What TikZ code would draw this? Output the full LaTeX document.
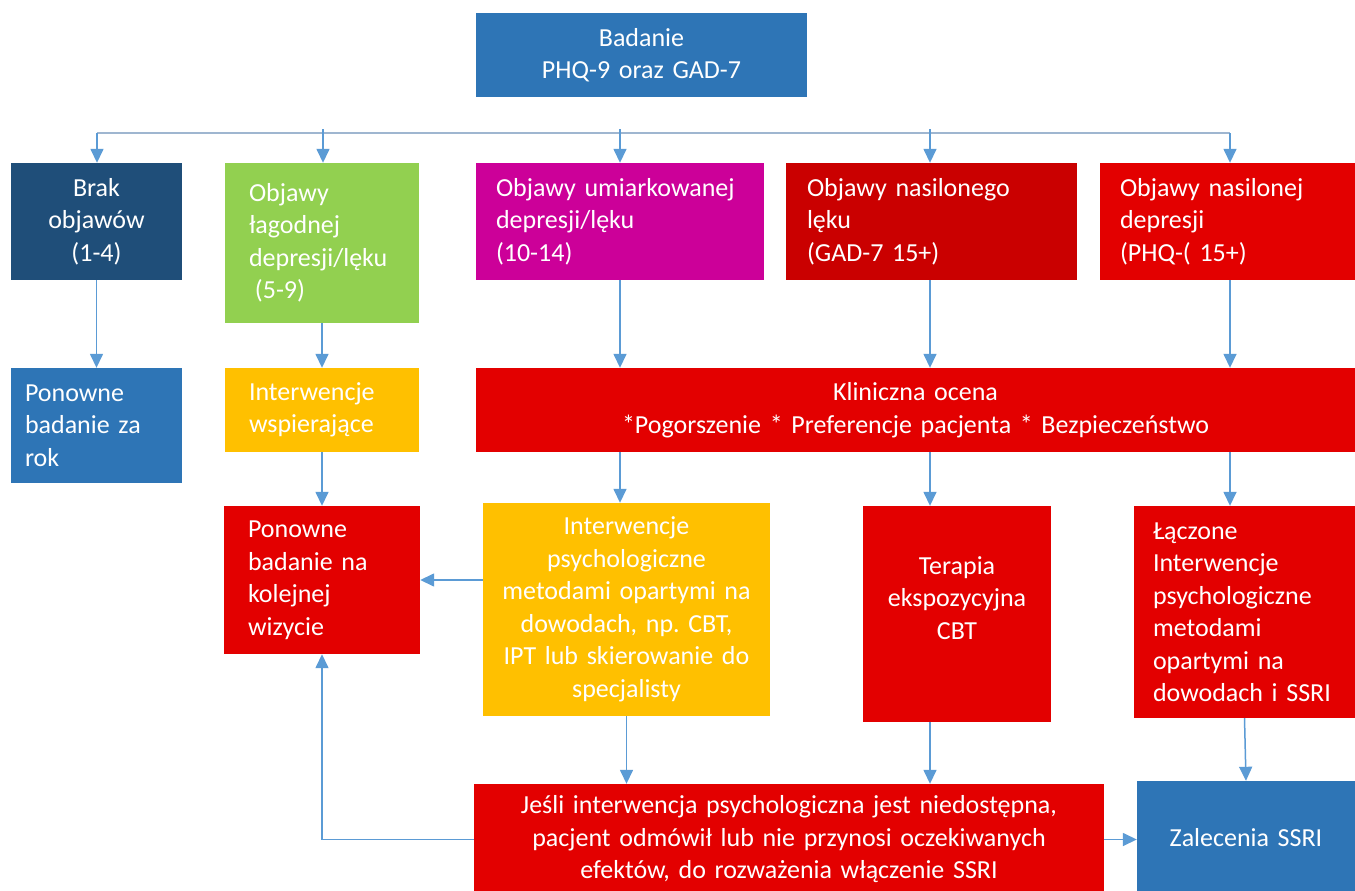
\documentclass[tikz,border=0pt]{standalone}
\usepackage{fontspec}
\setmainfont{Carlito}
\usetikzlibrary{arrows.meta}
\definecolor{cblue}{HTML}{2E75B6}
\definecolor{cnavy}{HTML}{1F4E79}
\definecolor{cgreen}{HTML}{92D050}
\definecolor{cyellow}{HTML}{FFC000}
\definecolor{cmagenta}{HTML}{CC0099}
\definecolor{cdred}{HTML}{CA0000}
\definecolor{cred}{HTML}{E30000}
\definecolor{carrow}{HTML}{5B9BD5}
\definecolor{cbus}{HTML}{9FB6D0}
\frenchspacing
\begin{document}
\begin{tikzpicture}[x=1pt,y=-1pt,
  box/.style={draw=none, text=white, inner ysep=0pt, inner xsep=10pt,
    font=\fontsize{26}{32.5}\selectfont},
  conn/.style={draw=carrow, line width=1.5pt, -{Triangle[length=14pt,width=13pt]}},
  busline/.style={draw=cbus, line width=1.5pt}]
\useasboundingbox (0,0) rectangle (1355,891);
\fill[white] (0,0) rectangle (1355,891);

% row 0
\node[box, fill=cblue, minimum width=331pt, minimum height=84pt, text width=311pt, align=center] (badanie) at (641.5,55) {Badanie\\PHQ-9 oraz GAD-7};

% row 1
\node[box, fill=cnavy, minimum width=171pt, minimum height=117pt, text width=151pt, align=center] (brak) at (96.5,221.5) {Brak\\objawów\\(1-4)};
\node[box, fill=cgreen, inner xsep=24pt, minimum width=194pt, minimum height=160pt, text width=146pt, align=left] (lag) at (322,243) {Objawy\\łagodnej\\depresji/lęku\\\hspace*{0.23em}(5-9)};
\node[box, fill=cmagenta, inner xsep=20pt, minimum width=288pt, minimum height=117pt, text width=248pt, align=left] (umiar) at (620,221.5) {Objawy umiarkowanej\\depresji/lęku\\(10-14)};
\node[box, fill=cdred, inner xsep=21pt, minimum width=291pt, minimum height=117pt, text width=249pt, align=left] (nasil) at (931.5,221.5) {Objawy nasilonego\\lęku\\(GAD-7 15+)};
\node[box, fill=cred, inner xsep=20pt, minimum width=255pt, minimum height=117pt, text width=215pt, align=left] (nasdep) at (1227.5,221.5) {Objawy nasilonej\\depresji\\(PHQ-( 15+)};

% row 2
\node[box, fill=cblue, inner xsep=14pt, minimum width=171pt, minimum height=115pt, text width=143pt, align=left] (ponrok) at (96.5,425.5) {Ponowne\\badanie za\\rok};
\node[box, fill=cyellow, inner xsep=24pt, minimum width=194pt, minimum height=84pt, text width=146pt, align=left] (wsp) at (322,410) {Interwencje\\wspierające};
\node[box, fill=cred, minimum width=879pt, minimum height=84pt, text width=859pt, align=center] (klin) at (915.5,410) {Kliniczna ocena\\{*}Pogorszenie {*} Preferencje pacjenta {*} Bezpieczeństwo};

% row 3
\node[box, fill=cred, inner xsep=24pt, minimum width=196pt, minimum height=148pt, text width=148pt, align=left] (ponkol) at (322,580) {Ponowne\\badanie na\\kolejnej\\wizycie};
\node[box, fill=cyellow, inner xsep=5pt, minimum width=287pt, minimum height=213pt, text width=277pt, align=center] (psych) at (626.5,609.5) {Interwencje\\psychologiczne\\metodami opartymi na\\dowodach, np. CBT,\\IPT lub skierowanie do\\specjalisty};
\node[box, fill=cred, inner xsep=4pt, minimum width=188pt, minimum height=216pt, text width=180pt, align=center] (terapia) at (957,614) {Terapia\\ekspozycyjna\\CBT\\\mbox{}};
\node[box, fill=cred, inner xsep=19pt, minimum width=221pt, minimum height=212pt, text width=183pt, align=left] (lacz) at (1244.5,612) {Łączone\\Interwencje\\psychologiczne\\metodami\\opartymi na\\dowodach i SSRI};

% row 4
\node[box, fill=cred, minimum width=630pt, minimum height=111pt, text width=610pt, align=center] (jesli) at (789,839.5) {Jeśli interwencja psychologiczna jest niedostępna,\\pacjent odmówił lub nie przynosi oczekiwanych\\efektów, do rozważenia włączenie SSRI};
\node[box, fill=cblue, minimum width=218pt, minimum height=114pt, text width=198pt, align=center] (zal) at (1246,838) {Zalecenia SSRI};

% bus
\coordinate (bL) at (97,133);
\coordinate (bR) at (1230,133);
\coordinate (t2) at (323,129);
\coordinate (t3) at (620,129);
\coordinate (t4) at (930,129);
\draw[busline] (bL) -- (bR);
\draw[conn] (bL) -- (bL |- brak.north);
\draw[conn] (t2) -- (t2 |- lag.north);
\draw[conn] (t3) -- (t3 |- umiar.north);
\draw[conn] (t4) -- (t4 |- nasil.north);
\draw[conn] (bR) -- (bR |- nasdep.north);

% row1 -> row2
\draw[conn] (brak) -- (ponrok);
\draw[conn] (lag) -- (wsp);
\draw[conn] (t3 |- umiar.south) -- (t3 |- klin.north);
\draw[conn] (t4 |- nasil.south) -- (t4 |- klin.north);
\draw[conn] (bR |- nasdep.south) -- (bR |- klin.north);

% row2 -> row3
\draw[conn] (wsp) -- (ponkol);
\draw[conn] (t3 |- klin.south) -- (t3 |- psych.north);
\draw[conn] (t4 |- klin.south) -- (t4 |- terapia.north);
\draw[conn] (bR |- klin.south) -- (bR |- lacz.north);
\draw[conn] (psych.west |- ponkol) -- (ponkol.east);

% row3 -> row4
\draw[conn] (psych.south) -- (psych.south |- jesli.north);
\draw[conn] (t4 |- terapia.south) -- (t4 |- jesli.north);
\draw[conn] (lacz.south) -- (zal.north);
\draw[conn] (jesli.east) -- (jesli.east -| zal.west);
\draw[conn] (jesli.west) -| (ponkol.south);
\end{tikzpicture}
\end{document}
